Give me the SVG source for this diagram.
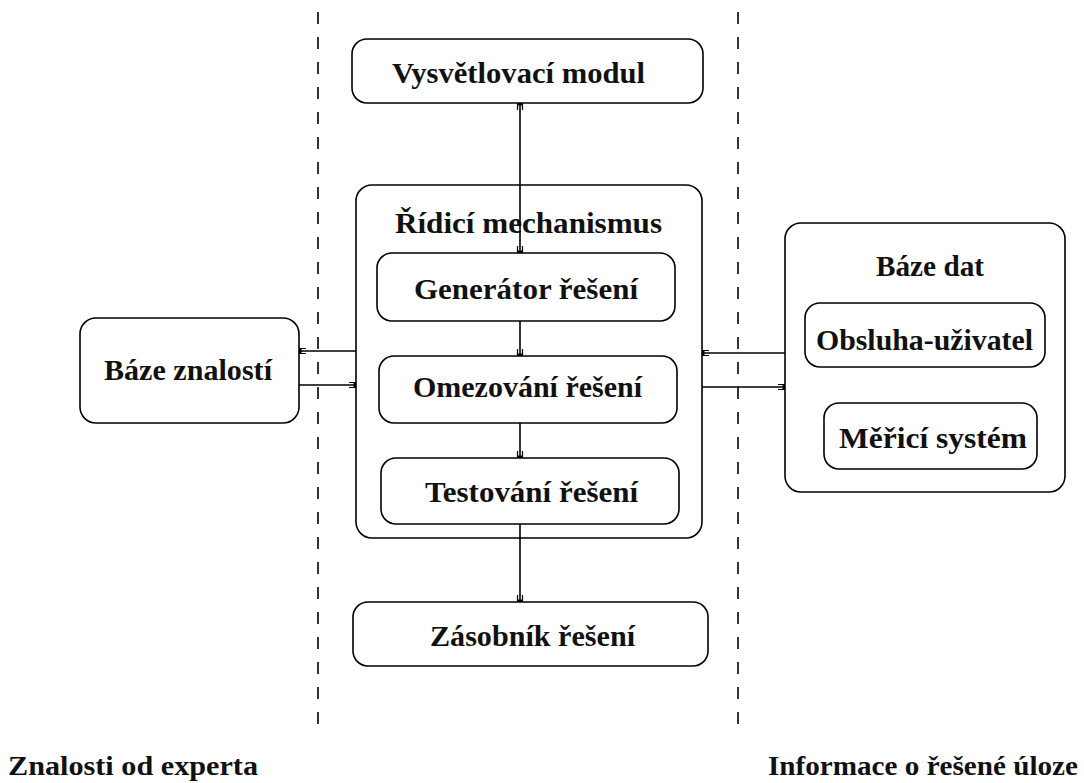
<svg xmlns="http://www.w3.org/2000/svg" width="1084" height="783" viewBox="0 0 1084 783">
<style>
.box{fill:#fff;stroke:#000;stroke-width:1.6}
.lbl{font-family:"Liberation Serif","Times New Roman",serif;font-weight:bold;font-size:30px;fill:#111}
.foot{font-family:"Liberation Serif","Times New Roman",serif;font-weight:bold;font-size:28px;fill:#111}
.con{stroke:#000;stroke-width:1.6;fill:none}
.dash{stroke:#000;stroke-width:1.6;stroke-dasharray:12 13}
</style>
<defs>
<marker id="ah" viewBox="-8 -5 10 10" refX="0" refY="0" markerWidth="10" markerHeight="10" markerUnits="userSpaceOnUse" orient="auto-start-reverse">
<path d="M-7,-2.5 L0,-2.5 M-7,2.5 L0,2.5" stroke="#000" stroke-width="1.2" fill="none"/>
<rect x="-2.5" y="-2" width="2.5" height="4" fill="#000"/>
</marker>
</defs>
<rect width="1084" height="783" fill="#fff"/>
<g id="separators">
<line class="dash" x1="318" y1="12" x2="318" y2="725"/>
<line class="dash" x1="738" y1="12" x2="738" y2="725"/>
</g>
<g id="ridici">
<rect class="box" x="356" y="185" width="346" height="353" rx="16"/>
<text class="lbl" x="395" y="233" textLength="267" lengthAdjust="spacingAndGlyphs">Řídicí mechanismus</text>
</g>
<g id="baze-dat">
<rect class="box" x="785" y="223" width="280" height="269" rx="16"/>
<text class="lbl" x="876" y="276" textLength="108" lengthAdjust="spacingAndGlyphs">Báze dat</text>
</g>
<g id="vysvetlovaci">
<rect class="box" x="352" y="39" width="351" height="64" rx="15"/>
<text class="lbl" x="392" y="83" textLength="253" lengthAdjust="spacingAndGlyphs">Vysvětlovací modul</text>
</g>
<g id="generator">
<rect class="box" x="377" y="253" width="298" height="68" rx="15"/>
<text class="lbl" x="414" y="299" textLength="224" lengthAdjust="spacingAndGlyphs">Generátor řešení</text>
</g>
<g id="omezovani">
<rect class="box" x="379" y="356" width="298" height="67" rx="15"/>
<text class="lbl" x="413" y="397" textLength="229" lengthAdjust="spacingAndGlyphs">Omezování řešení</text>
</g>
<g id="testovani">
<rect class="box" x="381" y="458" width="298" height="66" rx="15"/>
<text class="lbl" x="425" y="502" textLength="213" lengthAdjust="spacingAndGlyphs">Testování řešení</text>
</g>
<g id="zasobnik">
<rect class="box" x="353" y="602" width="355" height="64" rx="15"/>
<text class="lbl" x="430" y="646" textLength="205" lengthAdjust="spacingAndGlyphs">Zásobník řešení</text>
</g>
<g id="baze-znalosti">
<rect class="box" x="80" y="318" width="219" height="105" rx="16"/>
<text class="lbl" x="104" y="380" textLength="168" lengthAdjust="spacingAndGlyphs">Báze znalostí</text>
</g>
<g id="obsluha">
<rect class="box" x="805" y="303" width="240" height="64" rx="15"/>
<text class="lbl" x="816" y="350" textLength="217" lengthAdjust="spacingAndGlyphs">Obsluha-uživatel</text>
</g>
<g id="merici">
<rect class="box" x="824" y="403" width="213" height="66" rx="15"/>
<text class="lbl" x="839" y="448" textLength="188" lengthAdjust="spacingAndGlyphs">Měřicí systém</text>
</g>
<g id="connectors">
<line class="con" x1="520" y1="103" x2="520" y2="253" marker-start="url(#ah)" marker-end="url(#ah)"/>
<line class="con" x1="520" y1="321" x2="520" y2="356" marker-end="url(#ah)"/>
<line class="con" x1="520" y1="423" x2="520" y2="458" marker-end="url(#ah)"/>
<line class="con" x1="520" y1="524" x2="520" y2="602" marker-end="url(#ah)"/>
<line class="con" x1="356" y1="351" x2="299" y2="351" marker-end="url(#ah)"/>
<line class="con" x1="299" y1="385" x2="356" y2="385" marker-end="url(#ah)"/>
<line class="con" x1="785" y1="353" x2="702" y2="353" marker-end="url(#ah)"/>
<line class="con" x1="702" y1="387" x2="785" y2="387" marker-end="url(#ah)"/>
</g>
<g id="footer">
<text class="foot" x="8" y="775" textLength="250" lengthAdjust="spacingAndGlyphs">Znalosti od experta</text>
<text class="foot" x="768" y="775" textLength="310" lengthAdjust="spacingAndGlyphs">Informace o řešené úloze</text>
</g>
</svg>
